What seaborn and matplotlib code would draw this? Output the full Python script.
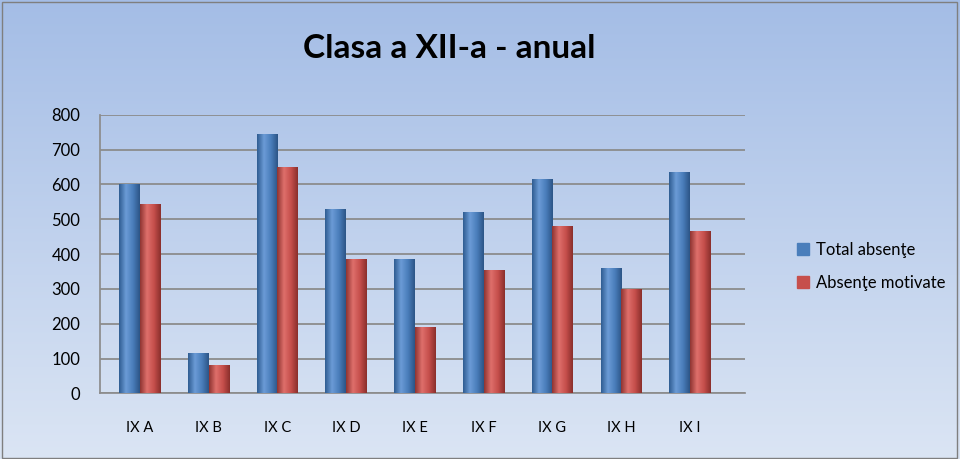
import numpy as np
import pandas as pd
import matplotlib
matplotlib.use("Agg")
import matplotlib.pyplot as plt
import seaborn as sns
from matplotlib.colors import LinearSegmentedColormap

# data
clase = ["IX A", "IX B", "IX C", "IX D", "IX E", "IX F", "IX G", "IX H", "IX I"]
total_absente = [600, 115, 745, 530, 385, 520, 615, 360, 635]
absente_motivate = [545, 82, 650, 385, 190, 355, 480, 300, 465]
serii = ["Total absenţe", "Absenţe motivate"]

df = pd.DataFrame({
    "clasa": clase * 2,
    "valoare": total_absente + absente_motivate,
    "serie": [serii[0]] * len(clase) + [serii[1]] * len(clase),
})

sns.set_theme(style="white")
plt.rcParams["font.family"] = ["Lato", "DejaVu Sans"]
plt.rcParams["text.color"] = "black"

fig = plt.figure(figsize=(9.6, 4.59), dpi=100)

# background gradient (darker blue at top, pale at bottom)
bg = fig.add_axes([0, 0, 1, 1], zorder=-10)
grad = np.linspace(0, 1, 256).reshape(-1, 1)
bg_cmap = LinearSegmentedColormap.from_list("bg", ["#a4bde6", "#dbe5f4"])
bg.imshow(grad, aspect="auto", cmap=bg_cmap, extent=[0, 1, 0, 1], origin="upper")
bg.set_xlim(0, 1)
bg.set_ylim(0, 1)
bg.axis("off")
bg.add_patch(plt.Rectangle((0.002, 0.003), 0.995, 0.993, fill=False,
                           edgecolor="#7f7f7f", linewidth=1.0))

ax = fig.add_axes([0.104, 0.143, 0.672, 0.607])
ax.patch.set_alpha(0)

colors = {serii[0]: "#4a7ebb", serii[1]: "#c64f4c"}
sns.barplot(data=df, x="clasa", y="valoare", hue="serie", palette=colors,
            width=0.6, ax=ax, legend=False, saturation=1, zorder=3,
            linewidth=0)

# cylinder-like shading on each bar
shade = {serii[0]: ["#2f5d92", "#6b9bd6", "#4a7ebb", "#2c5587"],
         serii[1]: ["#8f3431", "#de6f6b", "#c64f4c", "#8a2f2c"]}
for container, s in zip(ax.containers, serii):
    cm = LinearSegmentedColormap.from_list(s, shade[s])
    for bar in container:
        x0, y0 = bar.get_x(), bar.get_y()
        w, h = bar.get_width(), bar.get_height()
        img = ax.imshow(np.linspace(0, 1, 64).reshape(1, -1), cmap=cm,
                        extent=[x0, x0 + w, y0, y0 + h], aspect="auto", zorder=4)
        img.set_clip_path(bar)

ax.set_xlim(-0.58, 8.8)
ax.set_ylim(0, 800)
ax.set_yticks(range(0, 801, 100))
ax.yaxis.grid(True, color="#8c8c8c", linewidth=1.3, zorder=0)
ax.set_xlabel("")
ax.set_ylabel("")
for side in ["top", "right"]:
    ax.spines[side].set_visible(False)
ax.spines["left"].set_color("#8c8c8c")
ax.spines["bottom"].set_color("#8c8c8c")
ax.tick_params(axis="y", labelsize=12, pad=14, length=0, labelcolor="black")
ax.tick_params(axis="x", labelsize=10.5, pad=20, length=0, labelcolor="black")

fig.suptitle("Clasa a XII-a - anual", x=0.468, y=0.925, fontsize=24,
             fontweight="bold", color="black")

handles = [plt.Rectangle((0, 0), 1, 1, color=colors[s]) for s in serii]
fig.legend(handles, serii, loc="center left", bbox_to_anchor=(0.815, 0.42),
           frameon=False, fontsize=12, handlelength=0.7, handleheight=0.7,
           handletextpad=0.4, labelspacing=1.0, labelcolor="black")

fig.savefig("out.png", dpi=100)
